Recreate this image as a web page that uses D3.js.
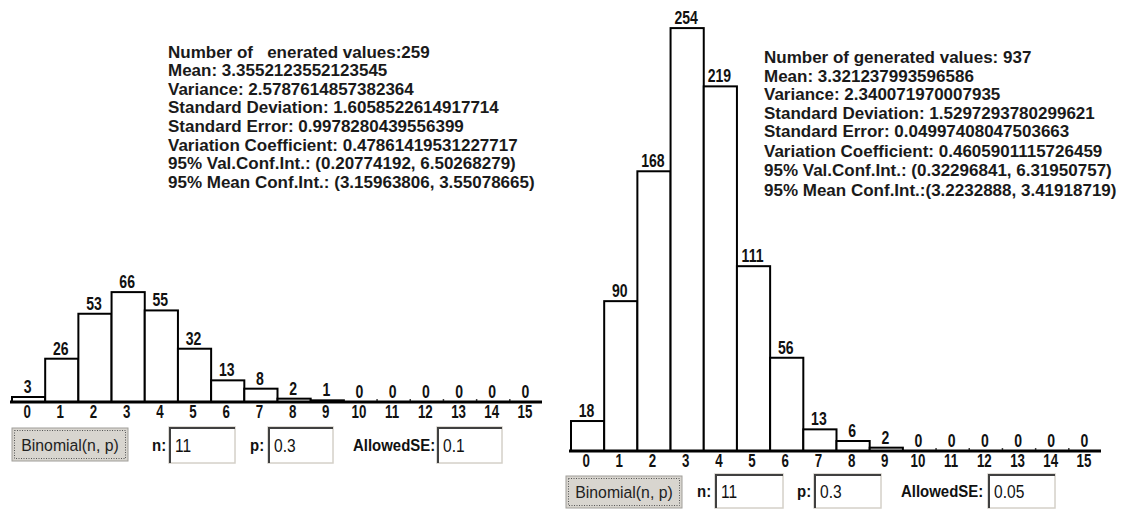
<!DOCTYPE html>
<html><head><meta charset="utf-8">
<script src="https://cdn.jsdelivr.net/npm/d3@7"></script>
<style>
html,body{margin:0;padding:0;background:#fff;}
svg{display:block;}
.nb{font-family:"Liberation Sans",Arial,sans-serif;font-weight:bold;}
</style></head>
<body>
<svg id="chart" width="1127" height="509"></svg>
<script>
const categories = ["0","1","2","3","4","5","6","7","8","9","10","11","12","13","14","15"];
const leftCounts  = [3, 26, 53, 66, 55, 32, 13, 8, 2, 1, 0, 0, 0, 0, 0, 0];
const rightCounts = [18, 90, 168, 254, 219, 111, 56, 13, 6, 2, 0, 0, 0, 0, 0, 0];
const leftStats = [
  "Number of   enerated values:259",
  "Mean: 3.3552123552123545",
  "Variance: 2.5787614857382364",
  "Standard Deviation: 1.6058522614917714",
  "Standard Error: 0.9978280439556399",
  "Variation Coefficient: 0.47861419531227717",
  "95% Val.Conf.Int.: (0.20774192, 6.50268279)",
  "95% Mean Conf.Int.: (3.15963806, 3.55078665)"
];
const rightStats = [
  "Number of generated values: 937",
  "Mean: 3.321237993596586",
  "Variance: 2.340071970007935",
  "Standard Deviation: 1.5297293780299621",
  "Standard Error: 0.04997408047503663",
  "Variation Coefficient: 0.4605901115726459",
  "95% Val.Conf.Int.: (0.32296841, 6.31950757)",
  "95% Mean Conf.Int.:(3.2232888, 3.41918719)"
];
const leftControls  = {button: "Binomial(n, p)", n: "11", p: "0.3", se: "0.1"};
const rightControls = {button: "Binomial(n, p)", n: "11", p: "0.3", se: "0.05"};

const svg = d3.select("#chart");
svg.append("rect").attr("width",1127).attr("height",509).attr("fill","#fff");

const PX_PER_UNIT = 1.665;

function drawPanel(cfg){
  const g = svg.append("g");
  const x = d3.scaleBand().domain(categories).range([cfg.x0, cfg.x1]).paddingInner(0);
  const y = d3.scaleLinear().domain([0, 254]).range([cfg.base, cfg.base - 254*PX_PER_UNIT]);
  const data = categories.map((c,i)=>({c, v: cfg.counts[i], i}));

  // bars
  g.selectAll("rect.bar").data(data.filter(d=>d.v>0)).join("rect")
    .attr("class","bar")
    .attr("x", d=>x(d.c))
    .attr("y", d=>y(d.v))
    .attr("width", x.bandwidth())
    .attr("height", d=>y(0)-y(d.v))
    .attr("fill","#fff").attr("stroke","#000").attr("stroke-width",2);

  // small stubs for empty bins
  g.selectAll("line.stub").data(data.filter(d=>d.v===0 && d.i>0 && cfg.counts[d.i-1]===0)).join("line")
    .attr("x1", d=>x(d.c)).attr("x2", d=>x(d.c))
    .attr("y1", y(0)-3).attr("y2", y(0))
    .attr("stroke","#444").attr("stroke-width",1.5);

  // axis
  const axis = d3.axisBottom(x).tickSize(0).tickPadding(0).tickSizeOuter(0);
  const ag = g.append("g").attr("transform",`translate(0,${cfg.base})`).call(axis);
  ag.select(".domain").remove();
  ag.attr("font-family",null).attr("font-size",null);
  ag.selectAll("text").attr("class","nb").attr("font-size",18).attr("fill","#111")
    .attr("y",0).attr("dy",null)
    .attr("transform","translate(-1.5,16) scale(0.74,1)");
  g.append("line").attr("x1", cfg.x0-2).attr("x2", cfg.x1-1)
    .attr("y1", cfg.base).attr("y2", cfg.base)
    .attr("stroke","#000").attr("stroke-width",3);

  // value labels
  g.selectAll("text.val").data(data).join("text")
    .attr("class","val nb")
    .attr("transform", d=>`translate(${x(d.c)+x.bandwidth()/2 - 1},${y(d.v) - 4}) scale(0.78,1)`)
    .attr("text-anchor","middle").attr("font-size",18).attr("fill","#111")
    .text(d=>d.v);

  // stats
  g.selectAll("text.stat").data(cfg.stats).join("text")
    .attr("class","stat nb")
    .attr("transform", (d,i)=>`translate(${cfg.tx},${cfg.ty[i]}) scale(1.0,1)`)
    .attr("font-size",17).attr("fill","#1a1a1a")
    .style("white-space","pre")
    .text(d=>d);

  // controls
  const c = cfg.ctrl;
  const bt = g.append("g");
  bt.append("rect").attr("x",c.bx).attr("y",c.by).attr("width",c.bw).attr("height",c.bh)
    .attr("fill","#d8d5cf").attr("stroke","#a09e99").attr("stroke-width",1);
  bt.append("rect").attr("x",c.bx+2.5).attr("y",c.by+2.5).attr("width",c.bw-5).attr("height",c.bh-5)
    .attr("fill","none").attr("stroke","#555").attr("stroke-width",1).attr("stroke-dasharray","1,1.5");
  bt.append("text")
    .attr("transform",`translate(${c.bx+c.bw/2},${c.by+c.bh/2+6}) scale(0.93,1)`)
    .attr("text-anchor","middle").attr("font-family","'Liberation Sans',Arial,sans-serif")
    .attr("font-size",17).attr("fill","#222").text(cfg.controls.button);

  function input(label, lx, ix, iw, val){
    g.append("text").attr("class","nb")
      .attr("transform",`translate(${lx},${c.iy+c.ih/2+6}) scale(0.88,1)`)
      .attr("font-size",17).attr("fill","#111").text(label);
    g.append("rect").attr("x",ix).attr("y",c.iy).attr("width",iw).attr("height",c.ih)
      .attr("fill","#fff").attr("stroke","#d4d0c8").attr("stroke-width",1.5);
    g.append("path").attr("d",`M${ix+1},${c.iy+c.ih}V${c.iy+1}H${ix+iw}`)
      .attr("fill","none").attr("stroke","#404040").attr("stroke-width",2);
    g.append("text")
      .attr("transform",`translate(${ix+6},${c.iy+c.ih/2+7}) scale(0.82,1)`)
      .attr("font-family","'Liberation Sans',Arial,sans-serif")
      .attr("font-size",19).attr("fill","#111").text(val);
  }
  input("n:", c.nl, c.nx, c.nw, cfg.controls.n);
  input("p:", c.pl, c.px, c.pw, cfg.controls.p);
  input("AllowedSE:", c.sl, c.sx, c.sw, cfg.controls.se);
}

drawPanel({
  x0: 12, x1: 543, base: 402, counts: leftCounts,
  stats: leftStats, tx: 168, ty: [58, 76, 95, 113, 132, 151, 169, 188],
  controls: leftControls,
  ctrl: {bx:12, by:428, bw:116, bh:33, iy:427, ih:36,
         nl:152, nx:169, nw:66, pl:250, px:268, pw:65, sl:353, sx:437, sw:65}
});
drawPanel({
  x0: 571, x1: 1102, base: 451, counts: rightCounts,
  stats: rightStats, tx: 764, ty: [63, 82, 100, 119, 137, 157, 176, 196],
  controls: rightControls,
  ctrl: {bx:566, by:476, bw:116, bh:32, iy:474, ih:34,
         nl:697, nx:715, nw:68, pl:797, px:814, pw:67, sl:901, sx:988, sw:67}
});
</script>
</body></html>
